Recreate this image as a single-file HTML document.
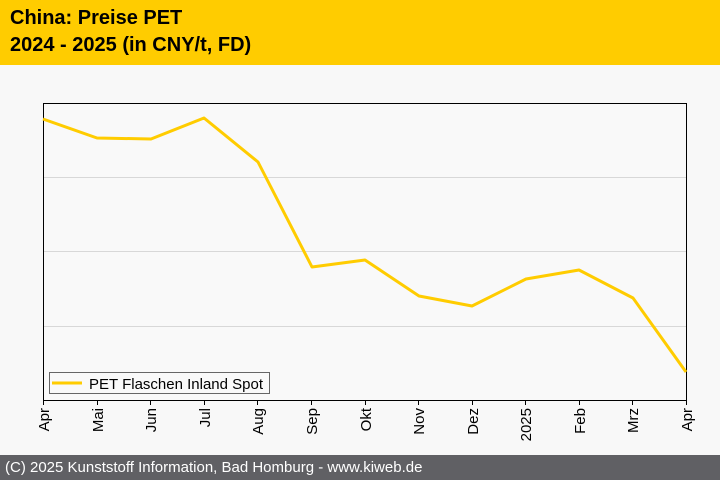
<!DOCTYPE html>
<html><head><style>
body{margin:0;width:720px;height:480px;background:#f8f8f8;font-family:"Liberation Sans",sans-serif;position:relative;overflow:hidden}
.h{position:absolute;left:0;top:0;width:720px;height:65px;background:#ffcc00}
.h div{position:absolute;left:10px;font-weight:bold;font-size:20px;color:#000}
.f{position:absolute;left:0;top:455px;width:720px;height:25px;background:#606064;color:#fff;font-size:15px;line-height:25px;padding-left:5px;box-sizing:border-box}
</style></head><body>
<div class="h"><div style="top:7px">China: Preise PET</div><div style="top:34px">2024 - 2025 (in CNY/t, FD)</div></div>
<svg width="720" height="480" style="position:absolute;left:0;top:0">
<rect x="43.5" y="103.5" width="643" height="297" fill="#f9f9f9" stroke="none"/>
<g stroke="#d8d8d8" stroke-width="1"><line x1="44" x2="686" y1="177.5" y2="177.5"/><line x1="44" x2="686" y1="251.5" y2="251.5"/><line x1="44" x2="686" y1="326.5" y2="326.5"/></g>
<rect x="43.5" y="103.5" width="643" height="297" fill="none" stroke="#000"/>
<polyline fill="none" stroke="#ffcc00" stroke-width="3" stroke-linejoin="round" points="43,119 97,138 151,139 204,118 258,162 312,267 365,260 419,296 472,306 526,279 579,270 633,298 686,372"/>
<rect x="49.5" y="372.5" width="220" height="21" fill="#f9f9f9" stroke="#666"/>
<line x1="52" x2="82" y1="383" y2="383" stroke="#ffcc00" stroke-width="3"/>
<text x="89" y="389" font-size="15" font-family="Liberation Sans" fill="#000">PET Flaschen Inland Spot</text>
<g stroke="#000"><line x1="43.5" x2="43.5" y1="400" y2="405"/><line x1="97.5" x2="97.5" y1="400" y2="405"/><line x1="150.5" x2="150.5" y1="400" y2="405"/><line x1="204.5" x2="204.5" y1="400" y2="405"/><line x1="257.5" x2="257.5" y1="400" y2="405"/><line x1="311.5" x2="311.5" y1="400" y2="405"/><line x1="365.5" x2="365.5" y1="400" y2="405"/><line x1="418.5" x2="418.5" y1="400" y2="405"/><line x1="472.5" x2="472.5" y1="400" y2="405"/><line x1="525.5" x2="525.5" y1="400" y2="405"/><line x1="579.5" x2="579.5" y1="400" y2="405"/><line x1="632.5" x2="632.5" y1="400" y2="405"/><line x1="686.5" x2="686.5" y1="400" y2="405"/></g>
<g font-size="15" font-family="Liberation Sans" fill="#000" text-anchor="end">
<text transform="translate(49,408) rotate(-90)">Apr</text>
<text transform="translate(103,408) rotate(-90)">Mai</text>
<text transform="translate(156,408) rotate(-90)">Jun</text>
<text transform="translate(210,408) rotate(-90)">Jul</text>
<text transform="translate(263,408) rotate(-90)">Aug</text>
<text transform="translate(317,408) rotate(-90)">Sep</text>
<text transform="translate(371,408) rotate(-90)">Okt</text>
<text transform="translate(424,408) rotate(-90)">Nov</text>
<text transform="translate(478,408) rotate(-90)">Dez</text>
<text transform="translate(531,408) rotate(-90)">2025</text>
<text transform="translate(585,408) rotate(-90)">Feb</text>
<text transform="translate(638,408) rotate(-90)">Mrz</text>
<text transform="translate(692,408) rotate(-90)">Apr</text>
</g>
</svg>
<div class="f">(C) 2025 Kunststoff Information, Bad Homburg - www.kiweb.de</div>
</body></html>
